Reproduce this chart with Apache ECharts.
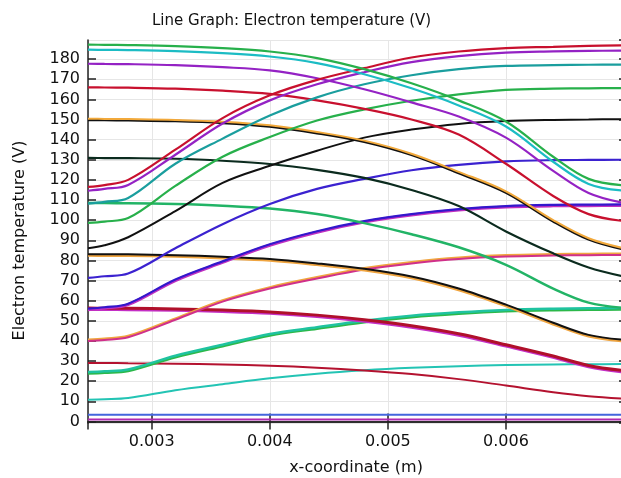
<!DOCTYPE html>
<html><head><meta charset="utf-8">
<script src="https://cdn.jsdelivr.net/npm/echarts@6/dist/echarts.min.js"></script>
<style>html,body{margin:0;padding:0;background:#fff}#c{width:621px;height:478px}</style>
</head><body><div id="c"></div>
<script>
// x sample positions (m)
const xs = [0.00246, 0.0026, 0.0028, 0.0032, 0.0036, 0.004, 0.0044, 0.0048, 0.0052, 0.0056, 0.006, 0.0064, 0.0067, 0.007];
// decreasing curves
const d1 = [187.2, 187.1, 187, 186.5, 185.5, 183.8, 180.5, 175, 168, 159.5, 149, 131.5, 120.5, 117.3];
const d2 = [184.7, 184.6, 184.5, 184, 183, 181.3, 178, 172.5, 165.5, 157, 146.5, 129, 118, 114.6];
const d3 = [177.7, 177.6, 177.5, 177, 176, 174.4, 170.5, 165, 158.5, 151.5, 141, 124.5, 113.5, 108.5];
const d4 = [166, 165.9, 165.8, 165.3, 164.3, 162.7, 159.5, 155.3, 150, 142.5, 128, 112, 103, 99.5];
const d5o = [150.4, 150.3, 150.2, 149.8, 148.9, 147.1, 143.8, 139.5, 133, 124, 114.3, 100, 91, 86];
const d5k = [149.8, 149.7, 149.6, 149.2, 148.3, 146.5, 143.2, 138.9, 132.4, 123.4, 113.7, 99.4, 90.4, 85.4];
const d6 = [130.9, 130.85, 130.8, 130.5, 129.5, 127.9, 125, 121, 115, 107, 94.4, 83.5, 76.5, 72];
const d7 = [108.5, 108.45, 108.4, 108, 107.2, 105.8, 103, 98.5, 93, 86.5, 77.8, 66, 59, 56.3];
const d8k = [83.1, 83.05, 83, 82.6, 81.8, 80.7, 78.5, 75.8, 72, 66, 58, 49, 43, 40.5];
const d8o = [82.5, 82.45, 82.4, 82, 81.2, 80.1, 77.9, 75.2, 71.4, 65.4, 57.4, 48.4, 42.4, 39.9];
const d9r = [56.3, 56.25, 56.2, 55.9, 55.3, 54.4, 52.8, 50.5, 47.5, 43.5, 38.1, 32.5, 27.8, 25.2];
const d9m = [55.6, 55.55, 55.5, 55.2, 54.6, 53.7, 52.1, 49.8, 46.8, 42.8, 37.4, 31.8, 27.1, 24.5];
const d10 = [29, 29, 28.9, 28.7, 28.3, 27.7, 26.7, 25.3, 23.5, 21, 17.8, 14.5, 12.5, 11.3];
// increasing curves
const i1 = [116.5, 117.4, 120, 135, 150.7, 162, 169.7, 175.5, 180.8, 183.8, 185.5, 186.1, 186.6, 186.8];
const i2 = [114.6, 115.5, 117.5, 132.5, 148, 159.5, 167.5, 173.5, 178.5, 181.5, 183.2, 183.8, 184.1, 184.2];
const i3 = [108.2, 109.1, 111, 128, 140.5, 152, 161, 167.5, 172, 175, 176.6, 177, 177.2, 177.3];
const i4 = [98.6, 99.3, 101, 117, 131.5, 141.3, 149.5, 155, 159.3, 162.5, 164.7, 165.3, 165.5, 165.6];
const i5 = [86, 87.5, 91.5, 104.5, 118.5, 127, 134.5, 141, 145, 147.8, 149.2, 149.8, 150, 150.2];
const i6 = [71.3, 72.1, 73.5, 86, 98, 108, 115.5, 120.5, 124.8, 127.5, 129.2, 129.8, 129.9, 130];
const i7b = [56, 56.7, 58.5, 70.5, 79.5, 88, 94.5, 99.5, 103, 105.5, 107, 107.6, 107.7, 107.8];
const i7m = [55.5, 56.2, 58, 70, 79, 87.5, 94, 99, 102.5, 105, 106.5, 107.1, 107.2, 107.3];
const i8m = [40, 40.5, 41.8, 50.5, 59.5, 66, 71, 75.5, 78.5, 80.7, 81.9, 82.4, 82.6, 82.7];
const i8o = [40.6, 41.1, 42.4, 51.1, 60.1, 66.6, 71.6, 76.1, 79.1, 81.3, 82.5, 83, 83.2, 83.3];
const i9g = [23.9, 24.3, 25.2, 32, 37.5, 42.8, 46.2, 49.4, 51.9, 53.6, 54.8, 55.4, 55.6, 55.7];
const i9t = [24.5, 24.9, 25.8, 32.6, 38.1, 43.4, 46.8, 50, 52.5, 54.2, 55.4, 56, 56.2, 56.3];
const i10 = [10.8, 11, 11.6, 15.5, 18.5, 21.4, 23.7, 25.4, 26.6, 27.4, 28, 28.3, 28.4, 28.5];
// flat curves
const f1 = [3.3, 3.3, 3.3, 3.3, 3.3, 3.3, 3.3, 3.3, 3.3, 3.3, 3.3, 3.3, 3.3, 3.3];
const f2 = [1.0, 1.0, 1.0, 1.0, 1.0, 1.0, 1.0, 1.0, 1.0, 1.0, 1.0, 1.0, 1.0, 1.0];

const FONT = 'DejaVu Sans';
const curves = [
  [f2, '#b02ab0', 2], [f1, '#4466dd', 2],
  [i10, '#23c4b4', 2], [d10, '#b4122f', 2],
  [i9g, '#2cb84a', 3], [i9t, '#1fc3a0', 2.5],
  [d9m, '#c42fc5', 3], [d9r, '#b0102a', 3],
  [i8o, '#f0a540', 2.5], [i8m, '#d0308a', 2],
  [d8o, '#f0a540', 3], [d8k, '#111111', 2],
  [i7m, '#c030c0', 3], [i7b, '#3318cc', 2.2],
  [d7, '#22b466', 2.5],
  [i6, '#3b22d0', 2.2],
  [d6, '#0b2b1e', 2.2],
  [i5, '#111111', 2],
  [d5k, '#111111', 2.5], [d5o, '#f2a93b', 2],
  [i4, '#27b04b', 2.2],
  [d4, '#c8102e', 2.2],
  [i3, '#1a9e9e', 2.2],
  [d3, '#9422c4', 2.2],
  [i2, '#9422c4', 2.2],
  [i1, '#c8102e', 2.2],
  [d2, '#1cbcc4', 2.2],
  [d1, '#27b04b', 2.2]
];

const series = curves.map(([arr, color, w]) => ({
  type: 'line', xAxisIndex: 0, yAxisIndex: 0,
  data: xs.map((x, i) => [x, arr[i]]),
  showSymbol: false, smooth: 0.35,
  lineStyle: { color: color, width: w }, itemStyle: { color: color },
  silent: true, animation: false
}));

const XMIN = 0.00246, XMAX = 0.007, YMIN = -0.8, YMAX = 189.5;
const axisLineStyle = { show: true, lineStyle: { color: '#222', width: 1.5 } };
const chart = echarts.init(document.getElementById('c'), null, { renderer: 'canvas' });
chart.setOption({
  animation: false,
  backgroundColor: '#fff',
  title: { text: 'Line Graph: Electron temperature (V)', left: 147, top: 9,
    textStyle: { fontFamily: FONT, fontSize: 15, fontWeight: 'normal', color: '#111' } },
  grid: { left: 88, right: -3, top: 40, bottom: 55, containLabel: false, outerBoundsMode: 'none' },
  xAxis: [{
    type: 'value', min: XMIN, max: XMAX, splitNumber: 5, position: 'bottom',
    axisLine: axisLineStyle,
    axisTick: { show: true, inside: true, length: 8, lineStyle: { color: '#222', width: 1.5 } },
    axisLabel: { showMinLabel: false, showMaxLabel: false, margin: 11, fontFamily: FONT, fontSize: 16, color: '#111',
      formatter: v => v.toFixed(3) },
    splitLine: { show: true, lineStyle: { color: '#e6e6e6', width: 1 } },
    name: 'x-coordinate (m)', nameLocation: 'middle', nameGap: 37,
    nameTextStyle: { fontFamily: FONT, fontSize: 16, color: '#111' }
  }, {
    type: 'value', min: XMIN, max: XMAX, splitNumber: 5, position: 'top',
    axisLine: axisLineStyle,
    axisTick: { show: true, inside: true, length: 8, lineStyle: { color: '#222', width: 1.5 } },
    axisLabel: { show: false }, splitLine: { show: false }
  }],
  yAxis: [{
    type: 'value', min: YMIN, max: YMAX, splitNumber: 19, position: 'left',
    axisLine: axisLineStyle,
    axisTick: { show: true, inside: true, length: 8, lineStyle: { color: '#222', width: 1.5 } },
    axisLabel: { showMinLabel: false, showMaxLabel: false, margin: 8, fontFamily: FONT, fontSize: 16, color: '#111' },
    splitLine: { show: true, lineStyle: { color: '#e6e6e6', width: 1 } },
    name: 'Electron temperature (V)', nameLocation: 'middle', nameGap: 60,
    nameTextStyle: { fontFamily: FONT, fontSize: 16, color: '#111', padding: [0, 18, 0, 0] }
  }, {
    type: 'value', min: YMIN, max: YMAX, splitNumber: 19, position: 'right',
    axisLine: axisLineStyle,
    axisTick: { show: true, inside: true, length: 5, lineStyle: { color: '#222', width: 1.5 } },
    axisLabel: { show: false }, splitLine: { show: false }
  }],
  series: series
});
</script>
</body></html>
